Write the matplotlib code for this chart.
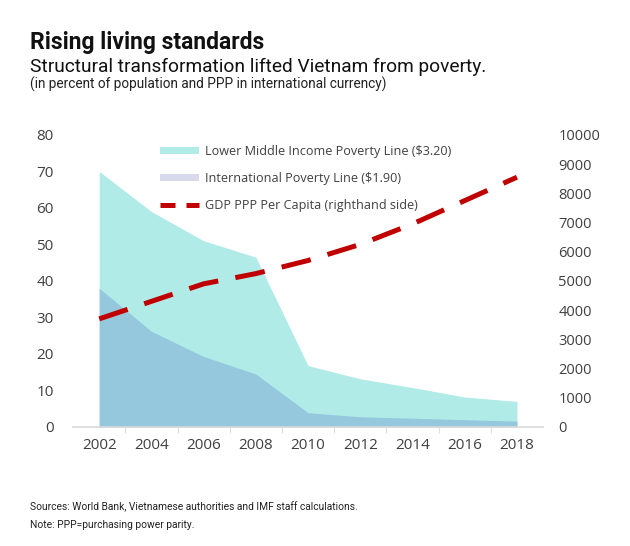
import numpy as np
import matplotlib
matplotlib.use("Agg")
from matplotlib import pyplot as plt
from matplotlib.patches import Patch
from matplotlib.lines import Line2D

years = [2002, 2004, 2006, 2008, 2010, 2012, 2014, 2016, 2018]
lmi_poverty = [70.0, 59.0, 51.0, 46.5, 16.8, 13.2, 10.8, 8.2, 7.0]   # $3.20 line
intl_poverty = [38.0, 26.2, 19.3, 14.5, 3.9, 2.8, 2.4, 2.0, 1.6]     # $1.90 line
gdp_ppp = [3700, 4300, 4900, 5250, 5700, 6250, 6950, 7750, 8550]      # right axis

left_ticks = [0, 10, 20, 30, 40, 50, 60, 70, 80]
right_ticks = [0, 1000, 2000, 3000, 4000, 5000, 6000, 7000, 8000, 9000, 10000]

c_lmi = "#b0ebe8"
c_intl = "#95c7dd"
c_intl_leg = "#d9d9ee"
c_gdp = "#c00000"
txt = "#404040"

fig = plt.figure(figsize=(6.3, 5.46), dpi=100)
ax = fig.add_axes([0.116, 0.218, 0.746, 0.535])

ax.fill_between(years, 0, lmi_poverty, color=c_lmi, lw=0)
ax.fill_between(years, 0, intl_poverty, color=c_intl, lw=0)
ax.set_xlim(2001, 2019)
ax.set_ylim(0, 80)
ax.set_xticks(years)
ax.set_xticks(np.arange(2003, 2018, 2), minor=True)
ax.set_yticks(left_ticks)
ax.tick_params(axis="x", which="major", length=0, pad=8, labelsize=11, labelcolor=txt)
ax.tick_params(axis="x", which="minor", length=4, color="#d9d9d9")
ax.tick_params(axis="y", length=0, pad=14, labelsize=11, labelcolor=txt)
for s in ["top", "left", "right"]:
    ax.spines[s].set_visible(False)
ax.spines["bottom"].set_color("#d9d9d9")
ax.spines["bottom"].set_linewidth(1.2)

ax2 = ax.twinx()
ax2.plot(years, gdp_ppp, color=c_gdp, lw=3.6, dashes=(6, 3.5))
ax2.set_ylim(0, 10000)
ax2.set_yticks(right_ticks)
ax2.tick_params(axis="y", length=0, pad=11, labelsize=10.5, labelcolor=txt)
for s in ["top", "left", "right", "bottom"]:
    ax2.spines[s].set_visible(False)

for a in (ax, ax2):
    for lab in a.get_xticklabels() + a.get_yticklabels():
        lab.set_family("Open Sans")

handles = [Patch(color=c_lmi, lw=0), Patch(color=c_intl_leg, lw=0),
           Line2D([0], [0], color=c_gdp, lw=3.6, dashes=(3, 2.2))]
labels = ["Lower Middle Income Poverty Line ($3.20)",
          "International Poverty Line ($1.90)",
          "GDP PPP Per Capita (righthand side)"]
leg = fig.legend(handles, labels, loc="upper left", bbox_to_anchor=(0.236, 0.755),
                 frameon=False, prop={"family": "Open Sans", "size": 9.1},
                 handlelength=3.1, handleheight=0.55, handletextpad=0.45, labelspacing=1.1)
for t in leg.get_texts():
    t.set_color(txt)

fig.text(0.048, 0.923, "Rising living standards", fontsize=16.5, fontweight="bold",
         family="Roboto", color="#111111", va="center")
fig.text(0.048, 0.877, "Structural transformation lifted Vietnam from poverty.",
         fontsize=13.8, family="Roboto", color="#111111", va="center")
fig.text(0.048, 0.845, "(in percent of population and PPP in international currency)",
         fontsize=9.8, family="Roboto", color="#222222", va="center", stretch="condensed")
fig.text(0.048, 0.071, "Sources: World Bank, Vietnamese authorities and IMF staff calculations.",
         fontsize=7.4, family="Roboto", color="#222222", va="center")
fig.text(0.048, 0.038, "Note: PPP=purchasing power parity.",
         fontsize=7.4, family="Roboto", color="#222222", va="center")

fig.savefig("out.png", dpi=100)
